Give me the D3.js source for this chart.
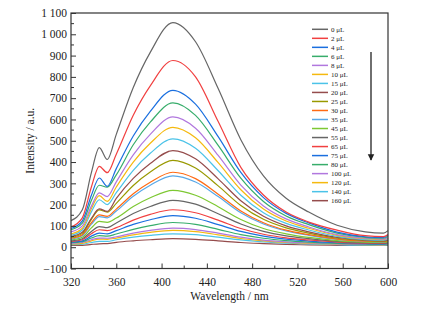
<!DOCTYPE html>
<html>
<head>
<meta charset="utf-8">
<script src="https://cdn.jsdelivr.net/npm/d3@7"></script>
<style>
  body { margin: 0; background: #fff; }
  text { font-family: "Liberation Serif", "Times New Roman", serif; fill: #222; }
</style>
</head>
<body>
<div id="chart"></div>
<script>
var width = 439,
  height = 312;

// wavelength sample points (nm)
var wavelengths = [320, 330, 338, 345, 352, 360, 375, 390, 410, 430, 450, 470, 490, 510, 530, 555, 580, 596, 600];

var seriesNames = ["0 μL", "2 μL", "4 μL", "6 μL", "8 μL", "10 μL", "15 μL", "20 μL", "25 μL", "30 μL",
  "35 μL", "45 μL", "55 μL", "65 μL", "75 μL", "80 μL", "100 μL", "120 μL", "140 μL", "160 μL"];

var seriesColors = ["#666666", "#F14040", "#1A6FDF", "#37AD6B", "#B177DE", "#F5B90F", "#4BC3E8", "#954C4C",
  "#999900", "#FF6A13", "#58A8E8", "#7DC832",
  "#666666", "#F14040", "#1A6FDF", "#37AD6B", "#B177DE", "#F5B90F", "#4BC3E8", "#954C4C"];

// intensity values (a.u.) for each series at the wavelengths above
var s0   = [125, 176, 350, 468, 412, 530, 750, 915, 1055, 965, 745, 505, 335, 230, 165, 103, 72, 66, 78];
var s2   = [95, 138, 283, 380, 350, 437, 620, 758, 877, 800, 590, 375, 245, 165, 118, 80, 54, 50, 60];
var s4   = [88, 124, 244, 325, 286, 369, 522, 638, 737, 672, 519, 351, 233, 159, 114, 71, 49, 45, 58];
var s6   = [82, 113, 219, 291, 282, 340, 481, 587, 678, 619, 478, 324, 215, 147, 106, 66, 46, 42, 50];
var s8   = [72, 100, 193, 255, 238, 307, 434, 530, 612, 559, 431, 292, 194, 133, 95, 59, 42, 38, 45];
var s10  = [62, 89, 181, 242, 215, 283, 400, 488, 563, 514, 397, 270, 179, 123, 89, 56, 40, 36, 42];
var s15  = [56, 81, 166, 223, 200, 256, 361, 441, 509, 465, 359, 244, 162, 112, 81, 51, 36, 33, 38];
var s20  = [50, 70, 136, 180, 168, 229, 323, 393, 454, 415, 321, 218, 145, 100, 72, 46, 33, 30, 34];
var s25  = [46, 65, 131, 175, 165, 206, 290, 353, 408, 372, 288, 196, 131, 91, 66, 42, 31, 28, 32];
var s30  = [42, 59, 115, 152, 145, 179, 251, 305, 352, 322, 249, 170, 115, 80, 59, 38, 28, 26, 30];
var s35  = [38, 54, 108, 144, 138, 170, 239, 291, 335, 306, 238, 162, 109, 76, 56, 37, 27, 25, 29];
var s45  = [34, 47, 91, 121, 117, 137, 191, 232, 267, 244, 190, 130, 88, 63, 46, 31, 24, 22, 25];
var s55  = [30, 40, 74, 97, 92, 114, 158, 191, 220, 202, 157, 109, 74, 53, 40, 27, 21, 20, 23];
var s65  = [27, 35, 63, 82, 78, 92, 127, 154, 176, 162, 127, 88, 61, 44, 34, 24, 19, 18, 21];
var s75  = [24, 30, 52, 66, 63, 78, 107, 129, 148, 136, 106, 74, 52, 38, 29, 21, 17, 16, 20];
var s80  = [21, 26, 43, 54, 52, 62, 84, 101, 116, 107, 84, 59, 42, 31, 24, 18, 15, 14, 16];
var s100 = [18, 22, 35, 43, 42, 49, 66, 79, 90, 83, 66, 47, 33, 25, 20, 15, 13, 12, 14];
var s120 = [15, 18, 30, 38, 37, 43, 58, 70, 79, 73, 58, 41, 30, 22, 18, 14, 12, 11, 13];
var s140 = [12, 14, 22, 27, 27, 35, 47, 56, 63, 59, 47, 34, 25, 19, 15, 12, 10, 10, 11];
var s160 = [8, 9, 13, 16, 17, 23, 30, 35, 40, 37, 30, 22, 17, 13, 11, 9, 8, 8, 9];

var allSeries = [s0, s2, s4, s6, s8, s10, s15, s20, s25, s30, s35, s45, s55, s65, s75, s80, s100, s120, s140, s160];

var xTicks = [320, 360, 400, 440, 480, 520, 560, 600];
var yTicks = [-100, 0, 100, 200, 300, 400, 500, 600, 700, 800, 900, 1000, 1100];

var margin = { left: 71, right: 51, top: 13, bottom: 43.5 };

var svg = d3.select("#chart")
  .append("svg")
  .attr("width", width)
  .attr("height", height);

var x = d3.scaleLinear()
  .domain([320, 600])
  .range([margin.left, width - margin.right]);

var y = d3.scaleLinear()
  .domain([-100, 1100])
  .range([height - margin.bottom, margin.top]);

var fmt = function(v) {
  var s = d3.format("d")(Math.abs(v));
  if (s.length > 3) s = s.slice(0, s.length - 3) + " " + s.slice(s.length - 3);
  return (v < 0 ? "\u2212" : "") + s;
};

// curves
var line = d3.line()
  .x(function(d, i) { return x(wavelengths[i]); })
  .y(function(d) { return y(d); })
  .curve(d3.curveMonotoneX);

var curves = svg.append("g");
curves.selectAll("path")
  .data(allSeries.slice().reverse())
  .enter()
  .append("path")
  .attr("fill", "none")
  .attr("stroke", function(d, i) { return seriesColors[allSeries.length - 1 - i]; })
  .attr("stroke-width", 1.2)
  .attr("d", line);

// axes, ticks pointing inward
var xAxis = svg.append("g")
  .attr("transform", "translate(0," + y(-100) + ")")
  .call(d3.axisBottom(x).tickValues(xTicks).tickSize(-5).tickPadding(9).tickFormat(d3.format("d")));

var yAxis = svg.append("g")
  .attr("transform", "translate(" + x(320) + ",0)")
  .call(d3.axisLeft(y).tickValues(yTicks).tickSize(-5).tickPadding(4).tickFormat(fmt));

[xAxis, yAxis].forEach(function(g) {
  g.select(".domain").remove();
  g.selectAll("line").attr("stroke", "#333").attr("stroke-width", 1);
  g.selectAll("text").attr("font-size", "11.5px").attr("fill", "#222")
    .style("font-family", "'Liberation Serif', serif");
});

// minor ticks
svg.append("g").selectAll("line")
  .data(d3.range(340, 600, 40))
  .enter()
  .append("line")
  .attr("x1", function(d) { return x(d); })
  .attr("x2", function(d) { return x(d); })
  .attr("y1", y(-100))
  .attr("y2", y(-100) - 3)
  .attr("stroke", "#333");

svg.append("g").selectAll("line")
  .data(d3.range(-50, 1100, 100))
  .enter()
  .append("line")
  .attr("x1", x(320))
  .attr("x2", x(320) + 3)
  .attr("y1", function(d) { return y(d); })
  .attr("y2", function(d) { return y(d); })
  .attr("stroke", "#333");

// frame
svg.append("rect")
  .attr("x", x(320))
  .attr("y", y(1100))
  .attr("width", x(600) - x(320))
  .attr("height", y(-100) - y(1100))
  .attr("fill", "none")
  .attr("stroke", "#333")
  .attr("stroke-width", 1.2);

// axis titles
svg.append("text")
  .attr("x", (x(320) + x(600)) / 2)
  .attr("y", 300)
  .attr("text-anchor", "middle")
  .attr("font-size", "11.5px")
  .text("Wavelength / nm");

svg.append("text")
  .attr("transform", "translate(34," + ((y(-100) + y(1100)) / 2) + ") rotate(-90)")
  .attr("text-anchor", "middle")
  .attr("font-size", "11.5px")
  .text("Intensity / a.u.");

// legend
var legend = svg.append("g");
var leg = legend.selectAll("g")
  .data(seriesNames)
  .enter()
  .append("g")
  .attr("transform", function(d, i) { return "translate(312," + (29.3 + i * 9.02) + ")"; });

leg.append("line")
  .attr("x1", 0)
  .attr("x2", 16)
  .attr("stroke", function(d, i) { return seriesColors[i]; })
  .attr("stroke-width", 1.5);

leg.append("text")
  .attr("x", 19)
  .attr("dy", "0.33em")
  .attr("font-size", "7px")
  .text(function(d) { return d; });

// arrow
svg.append("defs").append("marker")
  .attr("id", "arr")
  .attr("viewBox", "0 0 10 10")
  .attr("refX", 9)
  .attr("refY", 5)
  .attr("markerWidth", 5)
  .attr("markerHeight", 6)
  .attr("orient", "auto")
  .append("path")
  .attr("d", "M0,0 L10,5 L0,10 z")
  .attr("fill", "#222");

svg.append("line")
  .attr("x1", 371)
  .attr("x2", 371)
  .attr("y1", 52)
  .attr("y2", 160)
  .attr("stroke", "#222")
  .attr("stroke-width", 1.3)
  .attr("marker-end", "url(#arr)");
</script>
</body>
</html>
